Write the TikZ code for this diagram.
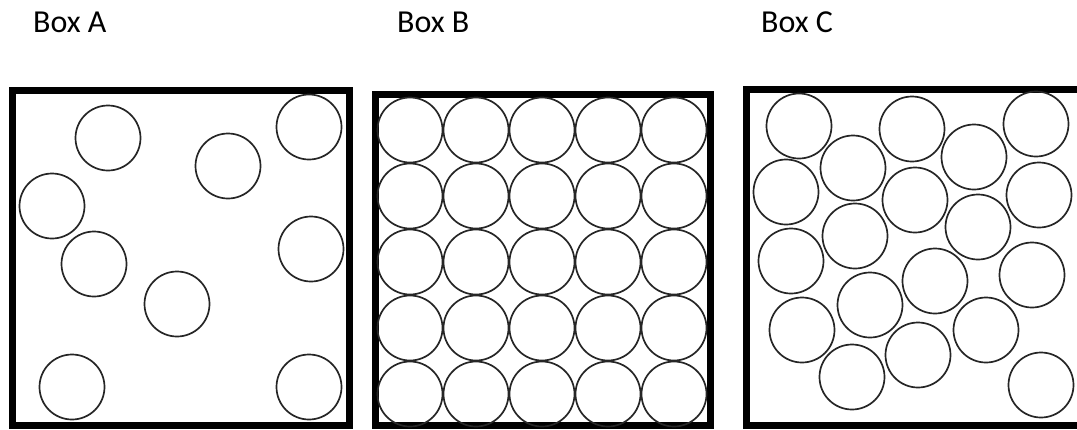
\documentclass[tikz,border=0pt]{standalone}
\usepackage{fontspec}
\setmainfont{Carlito}
\usepackage{tikz}

\begin{document}
\begin{tikzpicture}[x=1pt,y=-1pt,
        frame/.style={draw=black,line width=7pt},
        ball/.style={draw=black!85,line width=1.7pt},
        lbl/.style={anchor=base west,inner sep=0pt,font=\fontsize{32}{36}\selectfont}]
        \useasboundingbox (0,0) rectangle (1077,429);
        % labels
        \node[lbl] (la) at (33,32) {Box A};
        \node[lbl] (lb) at (397,32) {Box B};
        \node[lbl] (lc) at (761,32) {Box C};
        % box A: few balls, scattered
        \draw[frame] (12.5,90) rectangle (349,425);
        \foreach \x/\y in {108/138,228/166,309/127,52/206,94/264,311/249,177/304,72/387,309/387}
          \draw[ball] (\x,\y) circle (32.5);
        % box B: packed 5x5 grid
        \draw[frame] (375,94) rectangle (710,425);
        \foreach \i in {0,...,4}
          \foreach \j in {0,...,4}
            \draw[ball] (410+66*\i,130+66*\j) circle (32.5);
        % box C: dense, random
        \draw[frame] (746,89.5) rectangle (1082,425);
        \foreach \x/\y in {799/126,912/129,1036/124,853/168,974/157,786/192,915/200,1039/195,
                          855/236,978/227,791/261,935/281,1032/275,870/305,802/330,986/330,
                          918/355,852/377,1041/385}
          \draw[ball] (\x,\y) circle (32.5);
      \end{tikzpicture}
\end{document}
